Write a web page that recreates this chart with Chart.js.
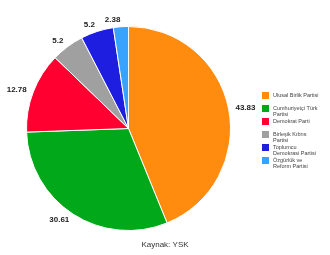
<!DOCTYPE html>
<html>
<head>
<meta charset="utf-8">
<script src="https://cdn.jsdelivr.net/npm/chart.js@4"></script>
<style>
  html, body { margin: 0; padding: 0; background: #fff; }
  #wrap { width: 330px; height: 255px; position: relative; }
</style>
</head>
<body>
<div id="wrap"><canvas id="pieChart"></canvas></div>
<script>
var parties = [
    ['Ulusal Birlik Partisi'],
    ['Cumhuriyetçi Türk', 'Partisi'],
    ['Demokrat Parti'],
    ['Birleşik Kıbrıs', 'Partisi'],
    ['Toplumcu', 'Demokrasi Partisi'],
    ['Özgürlük ve', 'Reform Partisi']
];
var votes = [43.83, 30.61, 12.78, 5.2, 5.2, 2.38];
var colors = ['#ff8c0f', '#00a81a', '#ff0030', '#a0a0a0', '#1e1ee0', '#38a2ff'];
var source = 'Kaynak: YSK';

// value labels outside the slices
var outLabels = {
    id: 'outLabels',
    afterDraw: function (chart) {
        var c = chart.ctx;
        var meta = chart.getDatasetMeta(0);
        c.save();
        c.font = 'bold 8px "Liberation Sans", Arial, sans-serif';
        c.fillStyle = '#222';
        c.textBaseline = 'middle';
        meta.data.forEach(function (arc, i) {
            var mid = (arc.startAngle + arc.endAngle) / 2;
            var r = arc.outerRadius + 7;
            var x = arc.x + Math.cos(mid) * r;
            var y = arc.y + Math.sin(mid) * r;
            c.textAlign = Math.cos(mid) >= 0 ? 'left' : 'right';
            c.fillText(String(votes[i]), x, y);
        });
        c.restore();
    }
};

// legend on the right with wrapped names
var sideLegend = {
    id: 'sideLegend',
    afterDraw: function (chart) {
        var c = chart.ctx;
        var y = 92;
        c.save();
        c.font = '5.5px "Liberation Sans", Arial, sans-serif';
        c.textBaseline = 'middle';
        c.textAlign = 'left';
        parties.forEach(function (lines, i) {
            c.fillStyle = colors[i];
            c.fillRect(262, y, 7, 7);
            c.fillStyle = '#444';
            lines.forEach(function (t, j) {
                c.fillText(t, 273, y + 3.5 + j * 5.5);
            });
            y += 13;
        });
        c.font = '8px "Liberation Sans", Arial, sans-serif';
        c.fillStyle = '#333';
        c.textAlign = 'center';
        c.fillText(source, 165, 245);
        c.restore();
    }
};

var ctx = document.getElementById('pieChart').getContext('2d');
var myChart = new Chart(ctx, {
    type: 'pie',
    data: {
        labels: parties.map(function (p) { return p.join(' '); }),
        datasets: [{
            data: votes,
            backgroundColor: colors,
            borderColor: '#fff',
            borderWidth: 1
        }]
    },
    options: {
        responsive: true,
        maintainAspectRatio: false,
        animation: false,
        layout: { padding: { left: 26, top: 26, right: 99, bottom: 24 } },
        plugins: {
            legend: { display: false },
            tooltip: { enabled: false }
        }
    },
    plugins: [outLabels, sideLegend]
});
</script>
</body>
</html>
